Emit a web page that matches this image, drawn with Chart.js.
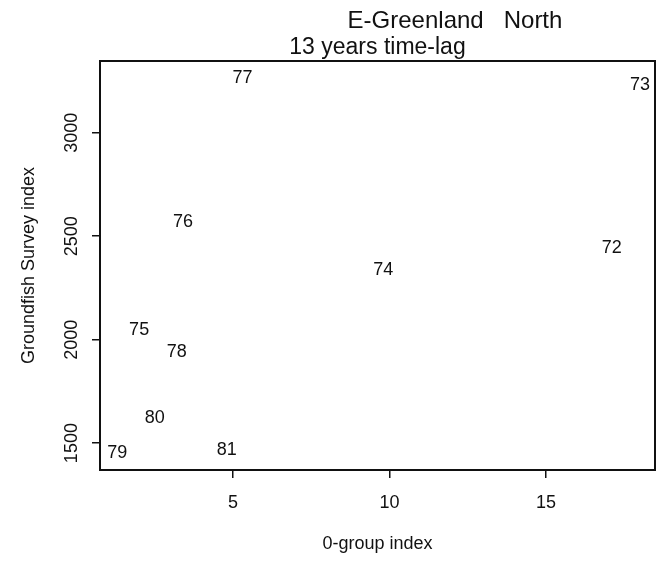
<!DOCTYPE html>
<html>
<head>
<meta charset="utf-8">
<script src="https://cdn.jsdelivr.net/npm/chart.js@4.4.1/dist/chart.umd.min.js"></script>
<style>
  html, body { margin: 0; padding: 0; background: #fff; }
  #wrap { width: 664px; height: 562px; }
</style>
</head>
<body>
<div id="wrap"><canvas id="chart" width="664" height="562"></canvas></div>
<script>
// year labels plotted as text at (0-group index, groundfish survey index)
const yearLabels = ['72', '73', '74', '75', '76', '77', '78', '79', '80', '81'];
const zeroGroup  = [17.1, 18.0, 9.8, 2.0, 3.4, 5.3, 3.2, 1.3, 2.5, 4.8];
const surveyIdx  = [2445, 3231, 2335, 2045, 2571, 3265, 1939, 1452, 1621, 1467];

const xTicks = [5, 10, 15];
const yTicks = [1500, 2000, 2500, 3000];

const mainTitle = '13 years time-lag';
const areaTitle = 'E-Greenland   North';
const xTitle = '0-group index';
const yTitle = 'Groundfish Survey index';

const FONT = "'Liberation Sans', Arial, Helvetica, sans-serif";

const points = zeroGroup.map((x, i) => ({ x, y: surveyIdx[i], label: yearLabels[i] }));

// draws the year text at each point and the box + titles, R style
const textPoints = {
  id: 'textPoints',
  afterDatasetsDraw(chart) {
    const ctx = chart.ctx;
    const meta = chart.getDatasetMeta(0);
    ctx.save();
    ctx.fillStyle = '#111';
    ctx.font = '18px ' + FONT;
    ctx.textAlign = 'center';
    ctx.textBaseline = 'middle';
    meta.data.forEach((el, i) => {
      ctx.fillText(points[i].label, el.x, el.y);
    });
    ctx.restore();
  },
  afterDraw(chart) {
    const { ctx, chartArea: a } = chart;
    ctx.save();
    ctx.strokeStyle = '#111';
    ctx.lineWidth = 2;
    ctx.strokeRect(a.left, a.top, a.right - a.left, a.bottom - a.top);
    ctx.fillStyle = '#111';
    ctx.textAlign = 'center';
    ctx.textBaseline = 'alphabetic';
    ctx.font = '23px ' + FONT;
    ctx.fillText(mainTitle, (a.left + a.right) / 2, 54);
    ctx.font = '24px ' + FONT;
    ctx.fillText(areaTitle, 455, 28);
    ctx.restore();
  }
};

new Chart(document.getElementById('chart'), {
  type: 'scatter',
  data: {
    datasets: [{
      data: points,
      pointRadius: 0,
      pointHoverRadius: 0,
      showLine: false
    }]
  },
  options: {
    responsive: false,
    animation: false,
    devicePixelRatio: 1,
    layout: { padding: { left: 14, top: 61, right: 9, bottom: 3 } },
    plugins: { legend: { display: false }, tooltip: { enabled: false } },
    scales: {
      x: {
        type: 'linear',
        min: 0.75,
        max: 18.48,
        afterBuildTicks: s => { s.ticks = xTicks.map(v => ({ value: v })); },
        afterFit: s => { s.height = 89; },
        grid: { drawOnChartArea: false, drawTicks: true, tickLength: 8, color: '#111', lineWidth: 1.5 },
        border: { display: false },
        ticks: { color: '#111', font: { size: 18, family: FONT }, padding: 14, maxRotation: 0, callback: v => String(v) },
        title: { display: true, text: xTitle, color: '#111', font: { size: 18, family: FONT } }
      },
      y: {
        type: 'linear',
        min: 1370,
        max: 3347,
        afterBuildTicks: s => { s.ticks = yTicks.map(v => ({ value: v })); },
        afterFit: s => { s.width = 86; },
        grid: { drawOnChartArea: false, drawTicks: true, tickLength: 8, color: '#111', lineWidth: 1.5 },
        border: { display: false },
        ticks: { color: '#111', font: { size: 18, family: FONT }, padding: 0, minRotation: 90, maxRotation: 90, crossAlign: 'center', callback: v => String(v) },
        title: { display: true, text: yTitle, color: '#111', font: { size: 18, family: FONT } }
      }
    }
  },
  plugins: [textPoints]
});
</script>
</body>
</html>
